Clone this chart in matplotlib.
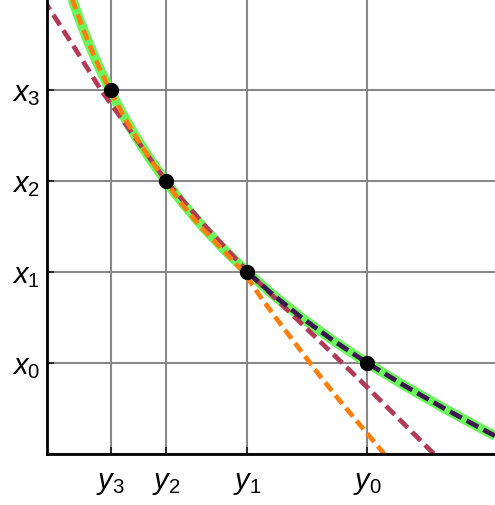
"""Iteration sketch: curve x(y) with three approximating curves and four sample points."""

import matplotlib.pyplot as plt

plt.rcParams['mathtext.fontset'] = 'custom'
plt.rcParams['mathtext.rm'] = 'Liberation Sans'
plt.rcParams['mathtext.it'] = 'Liberation Sans:italic'
plt.rcParams['font.family'] = ['Liberation Sans', 'DejaVu Sans']

# Sample points (horizontal y_k, vertical x_k)
y_ticks = [0.70, 1.31, 2.20, 3.52]          # y3, y2, y1, y0
y_labels = ['$y_3$', '$y_2$', '$y_1$', '$y_0$']
x_ticks = [0, 1, 2, 3, 4]                   # 0, x0, x1, x2, x3
x_labels = ['', '$x_0$', '$x_1$', '$x_2$', '$x_3$']
pts_y = [3.52, 2.20, 1.31, 0.70]
pts_x = [1, 2, 3, 4]

# Exact curve (green)
curve_x = [0.20, 0.25, 0.50, 0.75, 1.00, 1.25, 1.50, 1.75, 2.00, 2.25, 2.50,
           2.75, 3.00, 3.25, 3.50, 3.75, 4.00, 4.25, 4.50, 4.75, 5.00, 5.10]
curve_y = [4.923, 4.827, 4.366, 3.930, 3.520, 3.141, 2.796, 2.484, 2.200, 1.942, 1.708,
           1.496, 1.302, 1.127, 0.968, 0.823, 0.692, 0.572, 0.464, 0.366, 0.277, 0.244]

# Approximation through x0, x1 (dark purple)
fit0_x = [0.20, 0.25, 0.50, 0.75, 1.00, 1.25, 1.50, 1.75, 2.00]
fit0_y = [4.923, 4.827, 4.366, 3.930, 3.520, 3.141, 2.796, 2.484, 2.200]

# Approximation through x1, x2, x3 (orange)
fit1_x = [5.10, 5.00, 4.75, 4.50, 4.25, 4.00, 3.75, 3.50, 3.25, 3.00, 2.75, 2.50,
          2.25, 2.00, 1.703, 1.407, 1.132, 0.857, 0.582, 0.319, 0.044, 0.0]
fit1_y = [0.244, 0.277, 0.366, 0.464, 0.572, 0.692, 0.823, 0.968, 1.127, 1.302, 1.480, 1.685,
          1.925, 2.160, 2.363, 2.582, 2.791, 3.000, 3.220, 3.440, 3.670, 3.703]

# Approximation through x1, x2 (crimson)
fit2_x = [5.00, 4.934, 4.473, 4.000, 3.495, 3.000, 2.495, 2.011, 1.714, 1.396,
          1.077, 0.747, 0.396, 0.044, 0.0]
fit2_y = [-0.033, 0.000, 0.297, 0.593, 0.956, 1.308, 1.747, 2.198, 2.505, 2.835,
          3.165, 3.505, 3.857, 4.209, 4.253]

fig = plt.figure(figsize=(4.95, 5.06), dpi=100)
ax = fig.add_axes([47 / 495, 51 / 506, 448 / 495, 455 / 506])

ax.plot(curve_y, curve_x, color='#6af75c', lw=7, solid_capstyle='butt', zorder=2)
ax.plot(fit2_y, fit2_x, color='#b23a56', lw=3.4, dashes=(2.6, 1.3), zorder=3)
ax.plot(fit1_y, fit1_x, color='#ff7f0e', lw=3.4, dashes=(2.3, 1.2), zorder=4)
ax.plot(fit0_y, fit0_x, color='#3b1850', lw=3.4, dashes=(2.8, 1.2), zorder=5)
ax.plot(pts_y, pts_x, 'o', color='black', ms=10, zorder=6)

ax.set_xlim(0, 448 / 91)
ax.set_ylim(0, 455 / 91)
ax.set_xticks(y_ticks)
ax.set_xticklabels(y_labels, fontsize=21)
ax.set_yticks(x_ticks)
ax.set_yticklabels(x_labels, fontsize=21)
ax.tick_params(axis='both', direction='in', length=5, width=1.3, color='#222222')
ax.tick_params(axis='x', pad=10)
ax.tick_params(axis='y', pad=5)

ax.grid(True, color='#888888', lw=1.5)
ax.set_axisbelow(True)
for side in ('top', 'right'):
    ax.spines[side].set_visible(False)
for side in ('left', 'bottom'):
    ax.spines[side].set_linewidth(2)
    ax.spines[side].set_zorder(7)

plt.savefig('out.png', dpi=100)
plt.close()
